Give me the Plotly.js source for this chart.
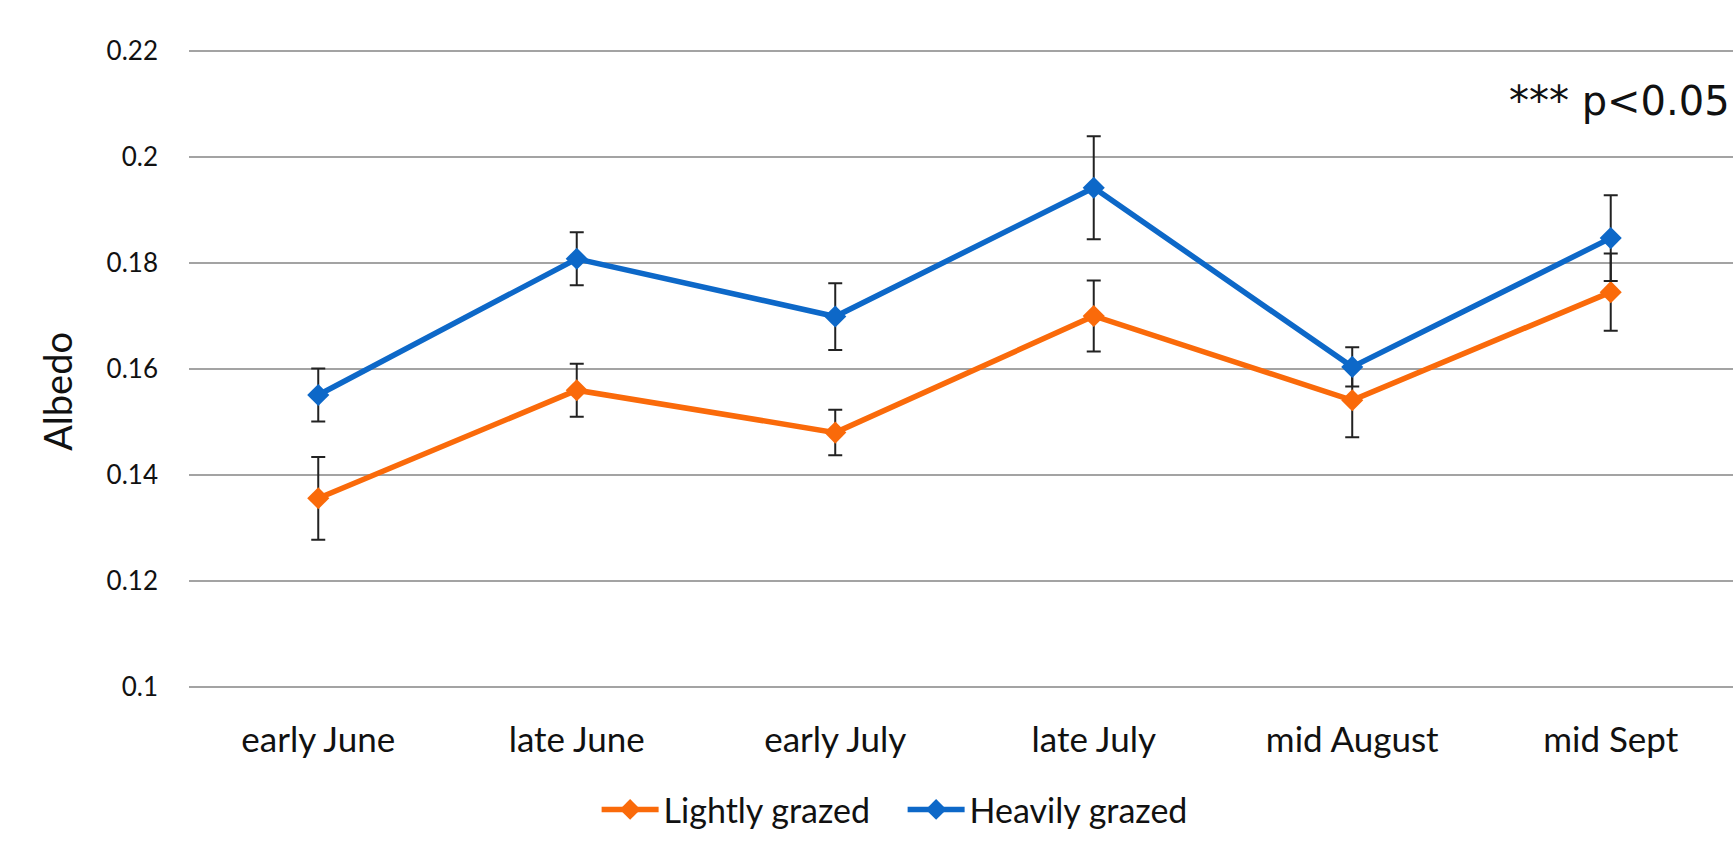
<!DOCTYPE html>
<html>
<head>
<meta charset="utf-8">
<script src="https://cdn.plot.ly/plotly-3.0.1.min.js"></script>
<style>html,body{margin:0;padding:0;background:#fff;}#chart{width:1733px;height:856px;}</style>
</head>
<body>
<div id="chart"></div>
<script>
const categories = ["early June", "late June", "early July", "late July", "mid August", "mid Sept"];
const lightlyGrazed = [0.1356, 0.1560, 0.1480, 0.1700, 0.1541, 0.1745];
const lightlyErr = [0.0078, 0.0050, 0.0043, 0.0067, 0.0070, 0.0073];
const heavilyGrazed = [0.1551, 0.1808, 0.1699, 0.1942, 0.1604, 0.1847];
const heavilyErr = [0.0050, 0.0050, 0.0063, 0.0097, 0.0037, 0.0081];
const yTicks = [0.1, 0.12, 0.14, 0.16, 0.18, 0.2, 0.22];
const yTickText = ["0.1", "0.12", "0.14", "0.16", "0.18", "0.2", "0.22"];

const FONT = "Lato, 'Open Sans', sans-serif";

function series(name, y, err, color) {
  return {
    type: "scatter", mode: "lines+markers", name: name,
    x: categories, y: y,
    line: {color: color, width: 5.5},
    marker: {symbol: "diamond", size: 17, color: color},
    error_y: {type: "data", array: err, visible: true, color: "#222222", thickness: 2, width: 7}
  };
}

const data = [
  series("Lightly grazed", lightlyGrazed, lightlyErr, "#FA6A0A"),
  series("Heavily grazed", heavilyGrazed, heavilyErr, "#0D68C8")
];

const layout = {
  width: 1733, height: 856,
  margin: {l: 189, r: 0, t: 49.5, b: 168},
  paper_bgcolor: "#ffffff", plot_bgcolor: "#ffffff",
  font: {family: FONT, color: "#111111"},
  showlegend: true,
  legend: {
    orientation: "h", x: 0.264, xanchor: "left", y: -0.191, yanchor: "middle",
    font: {family: FONT, size: 34, color: "#111111"},
    itemwidth: 57, entrywidth: 234
  },
  xaxis: {
    type: "category", range: [-0.5, 5.473],
    showgrid: false, zeroline: false, showline: false,
    ticks: "", ticklabelstandoff: 28,
    tickfont: {family: FONT, size: 35, color: "#111111"}
  },
  yaxis: {
    range: [0.0998, 0.2202],
    tickvals: yTicks, ticktext: yTickText,
    showgrid: true, gridcolor: "#A3A3A3", gridwidth: 2,
    zeroline: false, showline: false, ticks: "",
    ticklabelstandoff: 30,
    tickfont: {family: FONT, size: 26, color: "#111111"}
  },
  annotations: [
    {
      xref: "paper", yref: "paper", x: -0.0852, y: 0.465, xanchor: "center", yanchor: "middle",
      text: "Albedo", textangle: -90, showarrow: false,
      font: {family: FONT, size: 38, color: "#111111"}
    },
    {
      xref: "paper", yref: "paper", x: 0.9995, y: 0.92, xanchor: "right", yanchor: "middle",
      text: "*** p<0.05", showarrow: false,
      font: {family: "'DejaVu Sans', sans-serif", size: 40, color: "#111111"}
    }
  ]
};

Plotly.newPlot("chart", data, layout, {displayModeBar: false, staticPlot: true});
</script>
</body>
</html>
